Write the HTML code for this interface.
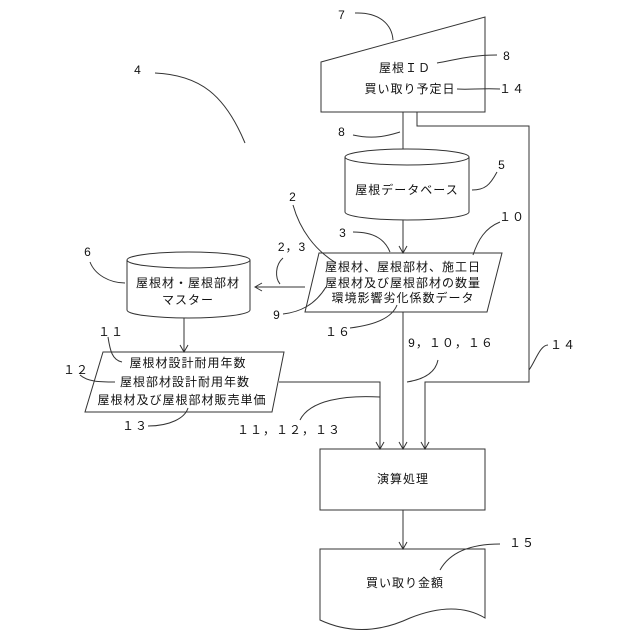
<!DOCTYPE html>
<html><head><meta charset="utf-8"><style>
html,body{margin:0;padding:0;background:#fff;}
svg{display:block;}
text{font-family:"Liberation Sans","Noto Sans CJK JP",sans-serif;font-size:12px;fill:#111;}
.t{text-anchor:middle;dominant-baseline:central;letter-spacing:1px;}
</style></head><body>
<svg width="640" height="640" viewBox="0 0 640 640" xmlns="http://www.w3.org/2000/svg">
<defs>
<marker id="a" markerWidth="10" markerHeight="10" refX="5" refY="9" orient="0" markerUnits="userSpaceOnUse" viewBox="0 0 10 10">
<path d="M1,2 L5,9 L9,2" fill="none" stroke="#333" stroke-width="1"/>
</marker>
<marker id="b" markerWidth="10" markerHeight="10" refX="1" refY="5" orient="0" markerUnits="userSpaceOnUse" viewBox="0 0 10 10">
<path d="M8,1 L1,5 L8,9" fill="none" stroke="#333" stroke-width="1"/>
</marker>
</defs>
<g fill="none" stroke="#333" stroke-width="1">
<path d="M321,62 L485,17 L485,112 L321,112 Z" fill="#fff"/>
<line x1="403" y1="112" x2="403" y2="156" marker-end="url(#a)"/>
<path d="M417,112 V126 H529 V382 H425 V449" marker-end="url(#a)"/>
<path d="M345,157 V212 A62,8 0 0 0 469,212 V157" fill="#fff"/>
<ellipse cx="407" cy="157" rx="62" ry="8" fill="#fff"/>
<line x1="403" y1="220" x2="403" y2="253" marker-end="url(#a)"/>
<path d="M319,253 L502,253 L487,312 L305,312 Z"/>
<line x1="305" y1="287" x2="255" y2="287" marker-end="url(#b)"/>
<line x1="403" y1="312" x2="403" y2="449" marker-end="url(#a)"/>
<path d="M127,260 V310 A61.5,8 0 0 0 250,310 V260" fill="#fff"/>
<ellipse cx="188.5" cy="260" rx="61.5" ry="8" fill="#fff"/>
<line x1="184" y1="318" x2="184" y2="352" marker-end="url(#a)"/>
<path d="M103,352 L284,352 L272,412 L85,412 Z"/>
<path d="M279,382 H380 V449" marker-end="url(#a)"/>
<rect x="320" y="449" width="165" height="61"/>
<line x1="403" y1="510" x2="403" y2="549" marker-end="url(#a)"/>
<path d="M320,549 H485 V618 C465,606 440,606 410,618 C380,632 350,634 320,620 Z"/>
<path d="M155,73 C200,75 225,95 245,143"/>
<path d="M355,13 C380,12 392,25 393,40"/>
<path d="M497,55 C470,55 455,60 437,63"/>
<path d="M500,89 C480,88 470,90 457,89"/>
<path d="M353,135 C375,140 390,135 400,132"/>
<path d="M497,172 C490,185 485,190 472,190"/>
<path d="M293,205 C300,230 315,250 336,263"/>
<path d="M353,232 C375,232 385,240 390,252"/>
<path d="M500,222 C485,228 478,240 473,255"/>
<path d="M283,258 C275,265 275,278 280,284"/>
<path d="M90,262 C95,275 110,283 125,283"/>
<path d="M283,314 C300,312 315,305 326,287"/>
<path d="M350,328 C375,325 392,318 397,305"/>
<path d="M407,382 C420,380 435,375 438,360"/>
<path d="M548,345 C540,345 535,362 529,370"/>
<path d="M108,337 C110,350 112,360 122,362"/>
<path d="M80,375 C88,382 100,382 115,382"/>
<path d="M148,426 C170,426 185,418 188,408"/>
<path d="M300,420 C310,400 345,395 380,397"/>
<path d="M500,544 C470,544 450,552 440,570"/>
</g>
<text class="t" x="405" y="68">屋根ＩＤ</text>
<text class="t" x="410" y="89">買い取り予定日</text>
<text class="t" x="407" y="190">屋根データベース</text>
<text class="t" x="403" y="267">屋根材、屋根部材、施工日</text>
<text class="t" x="403" y="283">屋根材及び屋根部材の数量</text>
<text class="t" x="403" y="298">環境影響劣化係数データ</text>
<text class="t" x="188" y="283">屋根材・屋根部材</text>
<text class="t" x="188" y="300">マスター</text>
<text class="t" x="188" y="363">屋根材設計耐用年数</text>
<text class="t" x="185" y="382">屋根部材設計耐用年数</text>
<text class="t" x="182" y="400">屋根材及び屋根部材販売単価</text>
<text class="t" x="403" y="479">演算処理</text>
<text class="t" x="405" y="583">買い取り金額</text>
<text class="t" x="138" y="70">4</text>
<text class="t" x="342" y="15">7</text>
<text class="t" x="507" y="56">8</text>
<text class="t" x="512" y="89">１４</text>
<text class="t" x="342" y="132">8</text>
<text class="t" x="502" y="165">5</text>
<text class="t" x="293" y="197">2</text>
<text class="t" x="343" y="233">3</text>
<text class="t" x="512" y="217">１０</text>
<text class="t" x="292" y="247">2，3</text>
<text class="t" x="88" y="252">6</text>
<text class="t" x="277" y="315">9</text>
<text class="t" x="338" y="332">１６</text>
<text class="t" x="451" y="343">9，１０，１６</text>
<text class="t" x="563" y="345">１４</text>
<text class="t" x="111" y="332">１１</text>
<text class="t" x="76" y="370">１２</text>
<text class="t" x="135" y="426">１３</text>
<text class="t" x="289" y="430">１１，１２，１３</text>
<text class="t" x="522" y="543">１５</text>
</svg>
</body></html>
